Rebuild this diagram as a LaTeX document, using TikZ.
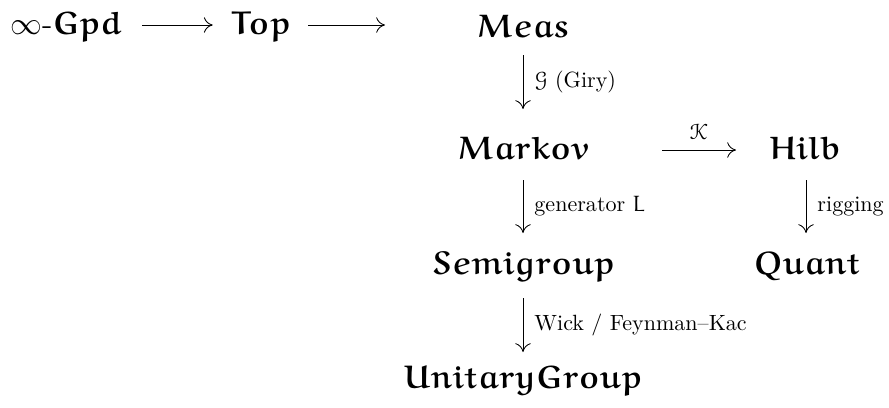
\documentclass[tikz,border=0pt]{standalone}
\usepackage[mathcal]{euscript}
\usetikzlibrary{arrows.meta}
% bold Euler Roman for the category names, medium for single letters
\newcommand\eubold[1]{{\usefont{U}{eur}{b}{n}#1}}
\newcommand\eumed[1]{{\usefont{U}{eur}{m}{n}#1}}
\tikzset{
  cat/.style={inner sep=0pt, font=\Large},
  lbl/.style={inner sep=0pt, font=\normalsize, anchor=west},
  arr/.style={line width=0.4pt, -{Computer Modern Rightarrow[length=4pt,width=7pt]}},
}
\begin{document}
\begin{tikzpicture}[x=0.4535pt,y=-0.4535pt]
\useasboundingbox (0,0) rectangle (889,407);
% objects
\node[cat,anchor=west] (gpd) at (10,26) {$\infty$-\eubold{Gpd}};
\node[cat] (top)  at (261,26)  {\eubold{Top}};
\node[cat] (meas) at (523,26)  {\eubold{Meas}};
\node[cat] (mark) at (523,148) {\eubold{Markov}};
\node[cat] (hilb) at (805,148) {\eubold{Hilb}};
\node[cat] (semi) at (523,266) {\eubold{Semigroup}};
\node[cat] (quan) at (807,266) {\eubold{Quant}};
\node[cat] (unit) at (523,380) {\eubold{UnitaryGroup}};
% connectors (the second one ends in a free point)
\coordinate (t2end) at (385,25);
\draw[arr] (gpd.east) ++(20,-1) -- ([xshift=-18*0.4535pt,yshift=1*0.4535pt]top.west);
\draw[arr] (top.east) ++(17,-1) -- (t2end);
\draw[arr] (523,55) -- (523,109) node[midway,lbl,xshift=5pt] {$\mathcal{G}$ (Giry)};
\draw[arr] (662,150) -- (736,150) node[midway,above=4.5pt,inner sep=0pt] {$\mathcal{K}$};
\draw[arr] (523,180) -- (523,233) node[midway,lbl,xshift=5pt] {generator \eumed{L}};
\draw[arr] (806,180) -- (806,233) node[midway,lbl,xshift=5pt] {rigging};
\draw[arr] (523,298) -- (523,352) node[midway,lbl,xshift=5pt] {Wick / Feynman--Kac};
\end{tikzpicture}
\end{document}
